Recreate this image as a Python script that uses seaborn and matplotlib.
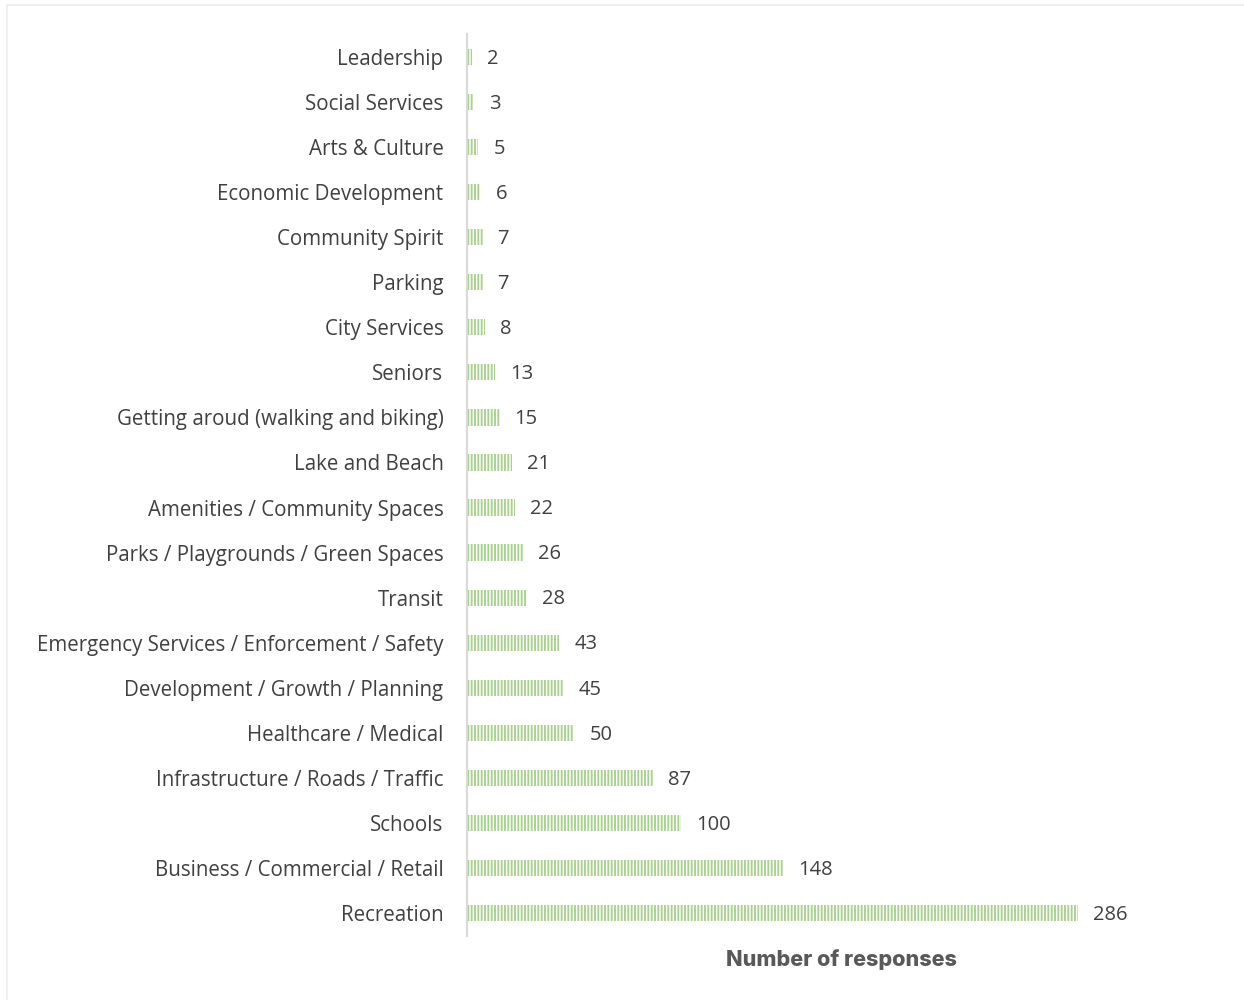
import matplotlib
matplotlib.use("Agg")
import matplotlib.pyplot as plt
import seaborn as sns
import pandas as pd
from matplotlib.patches import Rectangle

# survey topics, top to bottom
categories = ["Leadership", "Social Services", "Arts & Culture", "Economic Development",
              "Community Spirit", "Parking", "City Services", "Seniors",
              "Getting aroud (walking and biking)", "Lake and Beach",
              "Amenities / Community Spaces", "Parks / Playgrounds / Green Spaces",
              "Transit", "Emergency Services / Enforcement / Safety",
              "Development / Growth / Planning", "Healthcare / Medical",
              "Infrastructure / Roads / Traffic", "Schools",
              "Business / Commercial / Retail", "Recreation"]
responses = [2, 3, 5, 6, 7, 7, 8, 13, 15, 21, 22, 26, 28, 43, 45, 50, 87, 100, 148, 286]

df = pd.DataFrame({"topic": categories, "count": responses})

sns.set_style("white")
plt.rcParams["font.family"] = ["Open Sans", "DejaVu Sans"]
plt.rcParams["hatch.linewidth"] = 1.35
plt.rcParams["hatch.color"] = "#a9d18e"

fig = plt.figure(figsize=(12.44, 10), dpi=100)
ax = fig.add_axes([467 / 1244, 1 - 935.5 / 1000, (1215 - 467) / 1244, 901 / 1000])

sns.barplot(data=df, x="count", y="topic", orient="h", ax=ax, width=0.36,
            color="white", edgecolor="none")
for p in ax.patches:
    p.set_hatch("|||||")
    p.set_edgecolor("#a9d18e")
    p.set_linewidth(0)

for i, v in enumerate(responses):
    ax.text(v + 7, i + 0.04, str(v), va="center", ha="left", fontsize=14.5, color="#404040")

ax.set_xlim(-0.3, 350)
ax.set_ylim(len(categories) - 0.5, -0.5)
ax.set_xticks([])
ax.set_ylabel("")
ax.set_xlabel("Number of responses", fontsize=15.5, fontweight="heavy", color="#595959",
              family=["Inter", "DejaVu Sans"], labelpad=10)
ax.tick_params(axis="y", length=0, pad=17, labelsize=14.8, labelcolor="#404040")
for s in ["top", "right", "bottom"]:
    ax.spines[s].set_visible(False)
ax.spines["left"].set_color("#d9d9d9")
ax.spines["left"].set_linewidth(1.5)

fig.patches.append(Rectangle((7 / 1244, -0.01), 1.0, 1 - 5 / 1000 + 0.01,
                             transform=fig.transFigure, fill=False,
                             edgecolor="#ececec", linewidth=1.2))

fig.savefig("out.png", dpi=100)
